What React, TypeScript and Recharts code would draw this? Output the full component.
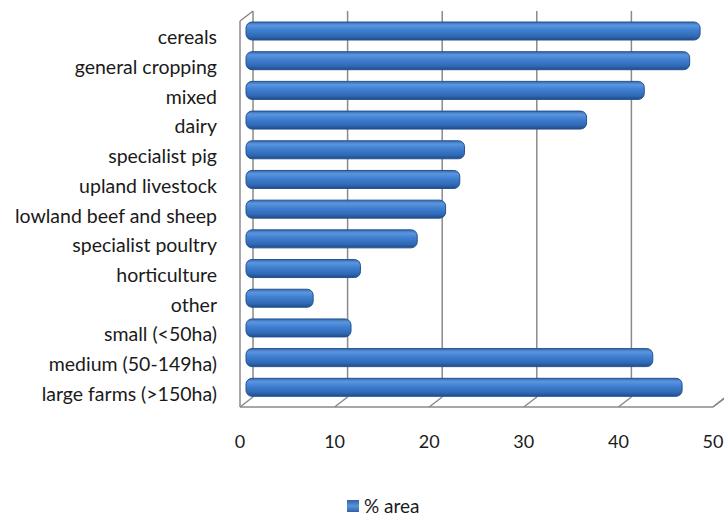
import React from 'react';
import { BarChart, Bar, XAxis, YAxis, CartesianGrid, Legend, ReferenceArea } from 'recharts';

const categories = [
  'cereals',
  'general cropping',
  'mixed',
  'dairy',
  'specialist pig',
  'upland livestock',
  'lowland beef and sheep',
  'specialist poultry',
  'horticulture',
  'other',
  'small (<50ha)',
  'medium (50-149ha)',
  'large farms (>150ha)',
];
const areaValues = [48.0, 46.9, 42.1, 36.0, 23.1, 22.6, 21.1, 18.1, 12.1, 7.1, 11.1, 43.0, 46.1];
const xTicks = [0, 10, 20, 30, 40, 50];
const seriesName = '% area';

const data = categories.map((c, i) => ({ name: c, area: areaValues[i] }));

const W = 724;
const H = 520;
const DX = 7;
const DY = 5;
const FONT = 'Lato, "Open Sans", sans-serif';
const GRID = '#8a8a8a';

const BarShape = (props: any) => {
  const { x, y, width, height } = props;
  if (!width || width <= 0) return null;
  const r = Math.min(6, height / 2);
  return (
    <g>
      <rect x={x} y={y} width={width} height={height} rx={r} ry={r} fill="url(#barGrad)" stroke="#24528f" strokeWidth={1} />
    </g>
  );
};

const YTick = (props: any) => {
  const { x, y, payload } = props;
  return (
    <text x={x - 29} y={y + 6} textAnchor="end" dominantBaseline="central" fontFamily={FONT} fontSize={19.5} fill="#1a1a1a">
      {payload.value}
    </text>
  );
};

const XTick = (props: any) => {
  const { x, y, payload } = props;
  return (
    <text x={x - 6} y={y + 39} textAnchor="middle" dominantBaseline="central" fontFamily={FONT} fontSize={18} fill="#1a1a1a">
      {payload.value}
    </text>
  );
};

const GridLine = (props: any) => {
  const { x1, y1, y2 } = props;
  return (
    <g key={props.key}>
      <line x1={x1 + DX} y1={y1 - DY} x2={x1 + DX} y2={y2 - DY} stroke={GRID} strokeWidth={1.5} />
      <line x1={x1 - 6} y1={y2 + DY} x2={x1 + DX} y2={y2 - DY} stroke={GRID} strokeWidth={1.5} />
    </g>
  );
};

const Frame = (props: any) => {
  const { x, y, width, height } = props;
  const b = y + height;
  return (
    <g>
      <line x1={x - 6} y1={y + DY} x2={x - 6} y2={b + DY} stroke={GRID} strokeWidth={1.5} />
      <line x1={x - 6} y1={y + DY} x2={x + DX} y2={y - DY} stroke={GRID} strokeWidth={1.5} />
      <line x1={x - 6} y1={b + DY} x2={x + width - 6} y2={b + DY} stroke={GRID} strokeWidth={1.5} />
      <line x1={x + width - 6} y1={b + DY} x2={x + width + DX} y2={b - DY} stroke={GRID} strokeWidth={1.5} />
    </g>
  );
};

const LegendContent = () => (
  <div style={{ display: 'flex', justifyContent: 'flex-start', alignItems: 'center', paddingLeft: 347, fontFamily: FONT, fontSize: 19, color: '#1a1a1a', lineHeight: '20px' }}>
    <svg width={12} height={12} style={{ marginRight: 5 }}>
      <defs>
        <linearGradient id="legGrad" x1="0" y1="0" x2="0" y2="1">
          <stop offset="0%" stopColor="#2d62a8" />
          <stop offset="50%" stopColor="#5a94de" />
          <stop offset="100%" stopColor="#2d62a8" />
        </linearGradient>
      </defs>
      <rect x={0} y={0} width={12} height={12} fill="url(#legGrad)" />
    </svg>
    <span>{seriesName}</span>
  </div>
);

export default function App() {
  return (
    <div style={{ position: 'absolute', left: 0, top: 0, width: W, height: H, background: '#fff' }}>
      <BarChart
        width={W}
        height={H}
        data={data}
        layout="vertical"
        margin={{ top: 16, right: 5, bottom: 88, left: 0 }}
        barCategoryGap={0}
      >
        <defs>
          <linearGradient id="barGrad" x1="0" y1="0" x2="0" y2="1">
            <stop offset="0%" stopColor="#3569b0" />
            <stop offset="18%" stopColor="#5b95df" />
            <stop offset="45%" stopColor="#3f7fd0" />
            <stop offset="80%" stopColor="#3068b4" />
            <stop offset="100%" stopColor="#1f4c88" />
          </linearGradient>
        </defs>
        <CartesianGrid horizontal={false} vertical={GridLine as any} stroke={GRID} />
        <ReferenceArea x1={0} x2={50} ifOverflow="visible" shape={Frame as any} />
        <XAxis
          type="number"
          domain={[0, 50]}
          ticks={xTicks}
          height={30}
          axisLine={false}
          tickLine={false}
          tickSize={0}
          tickMargin={0}
          tick={XTick as any}
          interval={0}
        />
        <YAxis
          type="category"
          dataKey="name"
          width={246}
          axisLine={false}
          tickLine={false}
          tickSize={0}
          tickMargin={0}
          tick={YTick as any}
          interval={0}
        />
        <Legend
          layout="horizontal"
          verticalAlign="middle"
          align="center"
          wrapperStyle={{ position: 'absolute', top: 496, left: 0, width: W }}
          content={LegendContent as any}
        />
        <Bar dataKey="area" name={seriesName} barSize={18} shape={BarShape as any} isAnimationActive={false} />
      </BarChart>
    </div>
  );
}
